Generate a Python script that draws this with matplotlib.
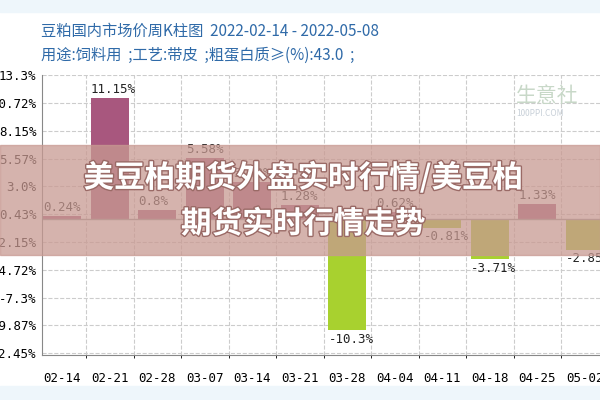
import matplotlib.pyplot as plt
import matplotlib.patheffects as pe
from matplotlib.patches import Rectangle

plt.rcParams['font.family'] = ['Noto Sans CJK SC', 'DejaVu Sans']

weeks = ['02-14', '02-21', '02-28', '03-07', '03-14', '03-21', '03-28',
         '04-04', '04-11', '04-18', '04-25', '05-02']
changes = [0.24, 11.15, 0.8, 5.58, 3.43, 1.28, -10.3, 0.62, -0.81, -3.71, 1.33, -2.85]
labels = ['0.24%', '11.15%', '0.8%', '5.58%', '3.43%', '1.28%', '-10.3%',
          '0.62%', '-0.81%', '-3.71%', '1.33%', '-2.85%']
yticks = [-12.45, -9.87, -7.3, -4.72, -2.15, 0.43, 3.0, 5.57, 8.15, 10.72, 13.3]

fig = plt.figure(figsize=(6, 4), dpi=100)
fig.patch.set_facecolor('white')
# light blue strips top and bottom
fig.patches.append(Rectangle((0, 0.97), 1, 0.03, transform=fig.transFigure, color='#eef6fb', zorder=0))
fig.patches.append(Rectangle((0, 0), 1, 0.035, transform=fig.transFigure, color='#eef6fb', zorder=0))

ax = fig.add_axes([0.07, 0.1125, 0.95, 0.70])
cols = ['#a8577e' if v >= 0 else '#a8d12f' for v in changes]
x = list(range(len(weeks)))
ax.bar(x, changes, width=0.8, color=cols, zorder=2)
for i, (v, t) in enumerate(zip(changes, labels)):
    ax.text(i - 0.4, v + (0.2 if v >= 0 else -0.25), t, ha='left',
            va='bottom' if v >= 0 else 'top', fontsize=9,
            family='DejaVu Sans Mono', color='#222222', zorder=3)
ax.axhline(0, color='#999999', lw=1, zorder=2)
ax.set_xlim(-0.43, 11.57)
ax.set_ylim(-12.6, 13.3)
ax.set_yticks(yticks)
ax.set_yticklabels([f'{t}%' for t in yticks], family='DejaVu Sans Mono', fontsize=9)
ax.set_xticks(x)
ax.set_xticklabels(weeks, family='DejaVu Sans Mono', fontsize=9)
ax.tick_params(length=0, pad=12, axis='x')
ax.tick_params(length=0, axis='y', pad=4)
ax.set_xticks([i + 0.5 for i in x], minor=True)
ax.grid(True, which='minor', axis='x', ls='--', color='#cccccc', lw=0.8)
ax.grid(True, which='major', axis='y', ls='--', color='#cccccc', lw=0.8)
ax.set_axisbelow(True)
for s in ['top', 'right']:
    ax.spines[s].set_visible(False)
for s in ['left', 'bottom']:
    ax.spines[s].set_color('#888888')

fig.text(0.068, 0.91, '豆粕国内市场价周K柱图  2022-02-14 - 2022-05-08', fontsize=11, color='#2f6aa8')
fig.text(0.068, 0.85, '用途:饲料用  ;工艺:带皮  ;粗蛋白质≥(%):43.0  ;', fontsize=11, color='#2f6aa8')
fig.text(0.86, 0.745, '生意社', fontsize=15, color='#c8d8c8')
fig.text(0.86, 0.71, '100PPI.COM', fontsize=6, color='#c8d0d8')

# overlay banner
fig.patches.append(Rectangle((0, 0.3625), 1, 0.275, transform=fig.transFigure,
                             color='#c89a92', alpha=0.75, zorder=5))
for yy, txt in [(0.555, '美豆柏期货外盘实时行情/美豆柏'), (0.44, '期货实时行情走势')]:
    fig.text(0.505, yy, txt, ha='center', va='center', fontsize=22, weight='bold',
             color='white', zorder=6,
             path_effects=[pe.withStroke(linewidth=2, foreground='#9a6a66')])

fig.savefig('out.png', dpi=100)
